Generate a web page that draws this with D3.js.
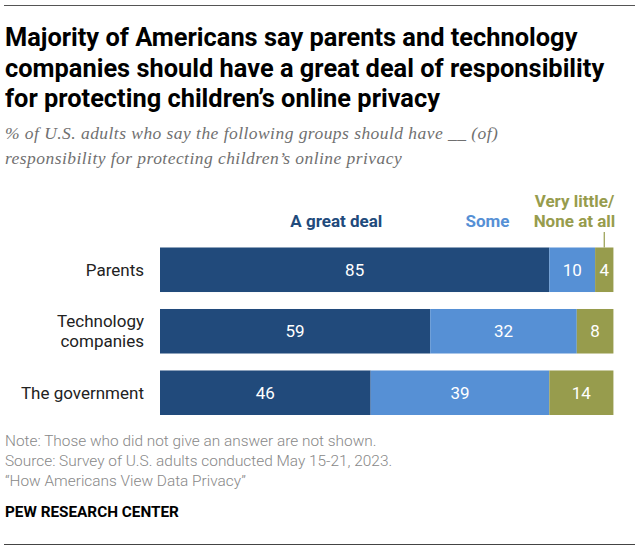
<!DOCTYPE html>
<html>
<head>
<meta charset="utf-8">
<script src="https://cdn.jsdelivr.net/npm/d3@7"></script>
<style>
  body { margin: 0; background: #fff; }
  svg { display: block; }
</style>
</head>
<body>
<div class="chart"></div>
<script>
// data
const categories = ["Parents", "Technology companies", "The government"];
const categoryLines = [["Parents"], ["Technology", "companies"], ["The government"]];
const seriesNames = ["A great deal", "Some", "Very little/None at all"];
const greatDeal = [85, 59, 46];
const some = [10, 32, 39];
const veryLittle = [4, 8, 14];

const titleLines = [
    "Majority of Americans say parents and technology",
    "companies should have a great deal of responsibility",
    "for protecting children\u2019s online privacy"
];
const subtitleLines = [
    "% of U.S. adults who say the following groups should have __ (of)",
    "responsibility for protecting children\u2019s online privacy"
];
const noteLines = [
    "Note: Those who did not give an answer are not shown.",
    "Source: Survey of U.S. adults conducted May 15-21, 2023.",
    "\u201cHow Americans View Data Privacy\u201d"
];

const W = 639, H = 551;
const sans = "'Roboto', 'Liberation Sans', sans-serif";
const serif = "'Liberation Serif', 'DejaVu Serif', serif";
const colors = ["#214a7b", "#5690d5", "#979c4d"];

const svg = d3.select(".chart")
    .append("svg")
    .attr("width", W)
    .attr("height", H);

// top and bottom rules
svg.append("line")
    .attr("x1", 4).attr("x2", 635)
    .attr("y1", 5.5).attr("y2", 5.5)
    .attr("stroke", "#555").attr("stroke-width", 1);
svg.append("line")
    .attr("x1", 4).attr("x2", 635)
    .attr("y1", 544.5).attr("y2", 544.5)
    .attr("stroke", "#444").attr("stroke-width", 1);

svg.append("g")
    .selectAll("text")
    .data(titleLines)
    .join("text")
    .attr("x", 5)
    .attr("y", (d, i) => 46 + i * 30.5)
    .attr("font-family", sans)
    .attr("font-weight", "bold")
    .attr("font-size", 25.4)
    .attr("fill", "#000")
    .text(d => d);

svg.append("g")
    .selectAll("text")
    .data(subtitleLines)
    .join("text")
    .attr("x", 5)
    .attr("y", (d, i) => 139 + i * 25)
    .attr("font-family", serif)
    .attr("font-style", "italic")
    .attr("font-size", 17.5)
    .attr("letter-spacing", 0.45)
    .attr("fill", "#707070")
    .text(d => d);

// table for the stack
const rows = categories.map((c, i) => ({
    category: c,
    [seriesNames[0]]: greatDeal[i],
    [seriesNames[1]]: some[i],
    [seriesNames[2]]: veryLittle[i]
}));
const stacked = d3.stack().keys(seriesNames)(rows);

const x = d3.scaleLinear().domain([0, 100]).range([160, 618]);
const y = d3.scaleBand().domain(categories).range([247.5, 415]).paddingInner(0.276);

const layers = svg.append("g")
    .selectAll("g")
    .data(stacked)
    .join("g")
    .attr("fill", (d, i) => colors[i]);

layers.selectAll("rect")
    .data(d => d)
    .join("rect")
    .attr("x", d => x(d[0]))
    .attr("y", d => y(d.data.category))
    .attr("width", d => x(d[1]) - x(d[0]))
    .attr("height", y.bandwidth());

layers.selectAll("text")
    .data(d => d)
    .join("text")
    .attr("x", d => (x(d[0]) + x(d[1])) / 2)
    .attr("y", d => y(d.data.category) + y.bandwidth() / 2 + 6)
    .attr("text-anchor", "middle")
    .attr("font-family", sans)
    .attr("font-size", 17)
    .attr("fill", "#fff")
    .text(d => d[1] - d[0]);

// category labels
const catG = svg.append("g")
    .selectAll("text")
    .data(categories)
    .join("text")
    .attr("x", 144)
    .attr("y", (d, i) => y(d) + y.bandwidth() / 2 + 6 - (categoryLines[i].length - 1) * 10)
    .attr("text-anchor", "end")
    .attr("font-family", sans)
    .attr("font-size", 17)
    .attr("fill", "#222");
catG.selectAll("tspan")
    .data((d, i) => categoryLines[i])
    .join("tspan")
    .attr("x", 144)
    .attr("dy", (d, j) => j === 0 ? 0 : 20)
    .text(d => d);

// legend above the first bar
const legendAt = [38.5, 71.5, 90.5];
const legendLines = [["A great deal"], ["Some"], ["Very little/", "None at all"]];
const legend = svg.append("g")
    .selectAll("text")
    .data(seriesNames)
    .join("text")
    .attr("x", (d, i) => x(legendAt[i]))
    .attr("y", (d, i) => 227 - (legendLines[i].length - 1) * 20)
    .attr("text-anchor", "middle")
    .attr("font-family", sans)
    .attr("font-weight", "bold")
    .attr("font-size", 17)
    .attr("fill", (d, i) => colors[i]);
legend.selectAll("tspan")
    .data((d, i) => legendLines[i].map(t => ({ t, i })))
    .join("tspan")
    .attr("x", d => x(legendAt[d.i]))
    .attr("dy", (d, j) => j === 0 ? 0 : 20)
    .text(d => d.t);

// pointer from the last legend label to its small segment
const lastSeg = stacked[2][0];
svg.append("line")
    .attr("x1", (x(lastSeg[0]) + x(lastSeg[1])) / 2)
    .attr("x2", (x(lastSeg[0]) + x(lastSeg[1])) / 2)
    .attr("y1", 232)
    .attr("y2", y(categories[0]))
    .attr("stroke", colors[2])
    .attr("stroke-width", 1.2);

// notes
svg.append("g")
    .selectAll("text")
    .data(noteLines)
    .join("text")
    .attr("x", 5)
    .attr("y", (d, i) => 446 + i * 20)
    .attr("font-family", sans)
    .attr("font-size", 15.4)
    .attr("font-weight", 300)
    .attr("fill", "#888")
    .text(d => d);

svg.append("text")
    .attr("x", 5)
    .attr("y", 517)
    .attr("font-family", sans)
    .attr("font-weight", "bold")
    .attr("font-size", 15.3)
    .attr("fill", "#000")
    .text("PEW RESEARCH CENTER");
</script>
</body>
</html>
